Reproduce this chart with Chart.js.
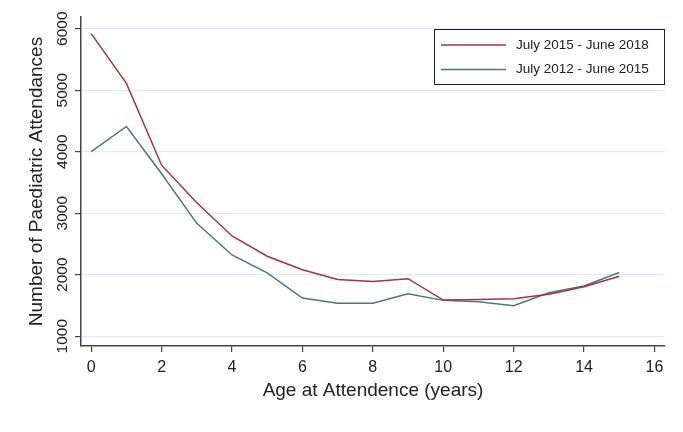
<!DOCTYPE html>
<html>
<head>
<meta charset="utf-8">
<script src="https://cdn.jsdelivr.net/npm/chart.js@4/dist/chart.umd.min.js"></script>
<style>
  html, body { margin: 0; padding: 0; background: #fff; }
  canvas { display: block; }
</style>
</head>
<body>
<canvas id="chart" width="683" height="432"></canvas>
<script>
// ages (years) on the x axis
const ages = [0, 1, 2, 3, 4, 5, 6, 7, 8, 9, 10, 11, 12, 13, 14, 15];

// attendances per age
const recent = [5920, 5110, 3780, 3170, 2630, 2300, 2080, 1920, 1890, 1935, 1587, 1595, 1610, 1680, 1805, 1975];
const earlier = [4000, 4410, 3640, 2835, 2320, 2030, 1620, 1537, 1537, 1689, 1582, 1560, 1496, 1705, 1815, 2035];

const seriesLabels = ['July 2015 - June 2018', 'July 2012 - June 2015'];
const seriesColors = ['#a2353f', '#4b7492'];

const xTicks = [0, 2, 4, 6, 8, 10, 12, 14, 16];
const yTicks = [1000, 2000, 3000, 4000, 5000, 6000];

const FONT = "'Liberation Sans', Arial, Helvetica, sans-serif";
const AXIS = '#444';

// y tick labels are vertical (read bottom to top), drawn at the scale's pixels
const yLabelPlugin = {
  id: 'yLabels',
  afterDraw(chart) {
    const ctx = chart.ctx;
    const y = chart.scales.y;
    ctx.save();
    ctx.fillStyle = '#222';
    ctx.font = '15.5px ' + FONT;
    ctx.textAlign = 'center';
    ctx.textBaseline = 'middle';
    yTicks.forEach(v => {
      ctx.save();
      ctx.translate(62.5, y.getPixelForValue(v));
      ctx.rotate(-Math.PI / 2);
      ctx.fillText(String(v), 0, 0);
      ctx.restore();
    });
    ctx.restore();
  }
};

// boxed legend in the top right corner
const boxLegend = {
  id: 'boxLegend',
  afterDraw(chart) {
    const ctx = chart.ctx;
    const bx = 434.5, by = 29.5, bw = 230, bh = 55;
    ctx.save();
    ctx.fillStyle = '#fff';
    ctx.fillRect(bx, by, bw, bh);
    ctx.strokeStyle = '#222';
    ctx.lineWidth = 1;
    ctx.strokeRect(bx, by, bw, bh);
    ctx.font = '13.5px ' + FONT;
    ctx.textBaseline = 'middle';
    ctx.textAlign = 'left';
    chart.data.datasets.forEach((ds, i) => {
      const ly = 45 + i * 24.5;
      ctx.strokeStyle = ds.borderColor;
      ctx.lineWidth = 1.5;
      ctx.beginPath();
      ctx.moveTo(441, ly);
      ctx.lineTo(506, ly);
      ctx.stroke();
      ctx.fillStyle = '#222';
      ctx.fillText(ds.label, 516, ly);
    });
    ctx.restore();
  }
};

new Chart(document.getElementById('chart'), {
  type: 'line',
  data: {
    datasets: [
      {
        label: seriesLabels[0],
        data: ages.map((a, i) => ({ x: a, y: recent[i] })),
        borderColor: seriesColors[0],
        borderWidth: 1.5,
        pointRadius: 0,
        tension: 0,
        fill: false
      },
      {
        label: seriesLabels[1],
        data: ages.map((a, i) => ({ x: a, y: earlier[i] })),
        borderColor: seriesColors[1],
        borderWidth: 1.5,
        pointRadius: 0,
        tension: 0,
        fill: false
      }
    ]
  },
  options: {
    responsive: false,
    animation: false,
    layout: { padding: { top: 17, right: 18, left: 0, bottom: 0 } },
    plugins: {
      legend: { display: false },
      tooltip: { enabled: false }
    },
    scales: {
      x: {
        type: 'linear',
        min: -0.29,
        max: 16.3,
        afterBuildTicks: axis => { axis.ticks = xTicks.map(v => ({ value: v })); },
        afterFit: s => { s.height = 86; },
        border: { color: AXIS, width: 1.5 },
        grid: { drawOnChartArea: false, drawTicks: true, tickLength: 6, tickColor: AXIS, lineWidth: 1.2 },
        ticks: { color: '#222', font: { family: FONT, size: 16 }, padding: 6, maxRotation: 0 },
        title: {
          display: true,
          text: 'Age at Attendence (years)',
          color: '#222',
          font: { family: FONT, size: 19 },
          padding: { top: 0, bottom: 29.5 }
        }
      },
      y: {
        min: 840,
        max: 6190,
        afterBuildTicks: axis => { axis.ticks = yTicks.map(v => ({ value: v })); },
        afterFit: s => { s.width = 81; },
        border: { color: AXIS, width: 1.5 },
        grid: { color: '#e3edf0', lineWidth: 1.2, drawTicks: true, tickLength: 6, tickColor: AXIS },
        ticks: { display: false },
        title: {
          display: true,
          text: 'Number of Paediatric Attendances',
          color: '#222',
          font: { family: FONT, size: 19 },
          padding: { top: 25, bottom: 0 }
        }
      }
    }
  },
  plugins: [yLabelPlugin, boxLegend]
});
</script>
</body>
</html>
